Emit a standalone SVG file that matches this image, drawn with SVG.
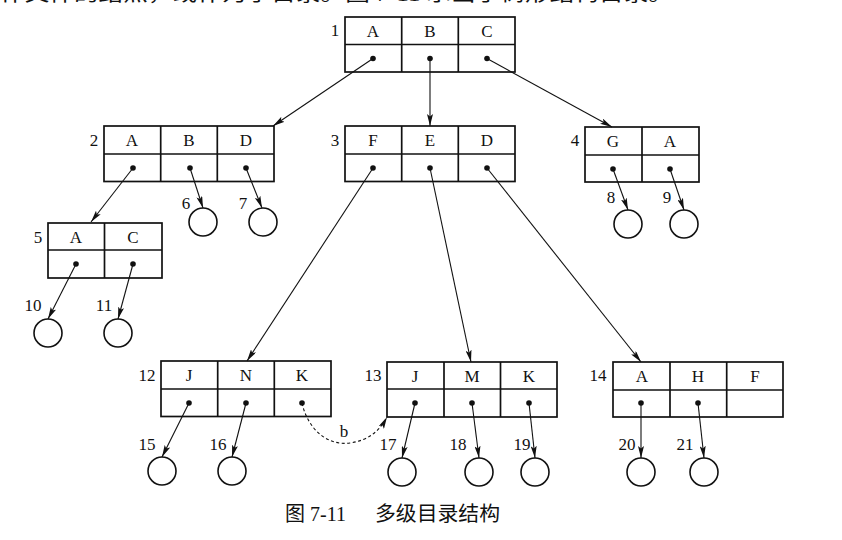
<svg xmlns="http://www.w3.org/2000/svg" width="842" height="540" viewBox="0 0 842 540">
<defs>
<marker id="ah" viewBox="0 0 12 6" refX="12" refY="3" markerWidth="12" markerHeight="6" markerUnits="userSpaceOnUse" orient="auto">
<path d="M0,0 L12,3 L0,6 L2.5,3 Z" fill="#111"/>
</marker>
<style>
.cell{fill:#fff;stroke:#111;stroke-width:1.7}
.t{font-family:'Liberation Serif','Times New Roman',serif;font-size:17px;fill:#111;text-anchor:middle}
.n{font-family:'Liberation Serif','Times New Roman',serif;font-size:17px;fill:#111;text-anchor:middle}
.dot{fill:#111}
.leaf{fill:#fff;stroke:#111;stroke-width:1.6}
.ln{stroke:#111;stroke-width:1.1;fill:none;marker-end:url(#ah)}
.cap{font-family:'Liberation Serif','Noto Sans CJK SC',serif;font-size:20px;fill:#111}
</style>
</defs>
<rect width="842" height="540" fill="#fff"/>
<text class="cap" x="0" y="1" font-size="22" textLength="673" lengthAdjust="spacingAndGlyphs">作文件的结点，或作为子目录。图 7-11 示出了树形结构目录。</text>

<g id="node1">
<rect class="cell" x="345" y="17" width="170" height="55"/>
<line class="cell" x1="345" y1="44.5" x2="515" y2="44.5"/>
<line class="cell" x1="401.7" y1="17" x2="401.7" y2="72"/>
<line class="cell" x1="458.3" y1="17" x2="458.3" y2="72"/>
<text class="t" x="373" y="37">A</text><text class="t" x="430" y="37">B</text><text class="t" x="487" y="37">C</text>
<circle class="dot" cx="373" cy="58.5" r="2.8"/><circle class="dot" cx="430" cy="58.5" r="2.8"/><circle class="dot" cx="487" cy="58.5" r="2.8"/>
<text class="n" x="335" y="36">1</text>
</g>

<g id="node2">
<rect class="cell" x="104" y="126" width="170" height="55.5"/>
<line class="cell" x1="104" y1="154" x2="274" y2="154"/>
<line class="cell" x1="160.7" y1="126" x2="160.7" y2="181.5"/>
<line class="cell" x1="217.3" y1="126" x2="217.3" y2="181.5"/>
<text class="t" x="132" y="146">A</text><text class="t" x="189" y="146">B</text><text class="t" x="246" y="146">D</text>
<circle class="dot" cx="133" cy="168" r="2.8"/><circle class="dot" cx="190" cy="168" r="2.8"/><circle class="dot" cx="246" cy="168" r="2.8"/>
<text class="n" x="94" y="146">2</text>
</g>

<g id="node3">
<rect class="cell" x="345" y="126" width="170" height="55.5"/>
<line class="cell" x1="345" y1="154" x2="515" y2="154"/>
<line class="cell" x1="401.7" y1="126" x2="401.7" y2="181.5"/>
<line class="cell" x1="458.3" y1="126" x2="458.3" y2="181.5"/>
<text class="t" x="373" y="146">F</text><text class="t" x="430" y="146">E</text><text class="t" x="487" y="146">D</text>
<circle class="dot" cx="373" cy="168" r="2.8"/><circle class="dot" cx="430" cy="168" r="2.8"/><circle class="dot" cx="487" cy="168" r="2.8"/>
<text class="n" x="335" y="146">3</text>
</g>

<g id="node4">
<rect class="cell" x="585" y="127" width="114" height="55"/>
<line class="cell" x1="585" y1="155" x2="699" y2="155"/>
<line class="cell" x1="642" y1="127" x2="642" y2="182"/>
<text class="t" x="613" y="147">G</text><text class="t" x="670" y="147">A</text>
<circle class="dot" cx="613" cy="169" r="2.8"/><circle class="dot" cx="670" cy="169" r="2.8"/>
<text class="n" x="575" y="146">4</text>
</g>

<g id="node5">
<rect class="cell" x="48" y="223" width="114" height="55"/>
<line class="cell" x1="48" y1="250" x2="162" y2="250"/>
<line class="cell" x1="104.5" y1="223" x2="104.5" y2="278"/>
<text class="t" x="76" y="243">A</text><text class="t" x="133" y="243">C</text>
<circle class="dot" cx="76" cy="264" r="2.8"/><circle class="dot" cx="133" cy="264" r="2.8"/>
<text class="n" x="38" y="243">5</text>
</g>

<g id="node12">
<rect class="cell" x="161" y="361" width="170" height="55.5"/>
<line class="cell" x1="161" y1="389" x2="331" y2="389"/>
<line class="cell" x1="217.7" y1="361" x2="217.7" y2="416.5"/>
<line class="cell" x1="274.3" y1="361" x2="274.3" y2="416.5"/>
<text class="t" x="189" y="381">J</text><text class="t" x="246" y="381">N</text><text class="t" x="302" y="381">K</text>
<circle class="dot" cx="189" cy="403" r="2.8"/><circle class="dot" cx="246" cy="403" r="2.8"/><circle class="dot" cx="302" cy="403" r="2.8"/>
<text class="n" x="147" y="381">12</text>
</g>

<g id="node13">
<rect class="cell" x="387" y="362" width="170" height="55"/>
<line class="cell" x1="387" y1="389" x2="557" y2="389"/>
<line class="cell" x1="444" y1="362" x2="444" y2="417"/>
<line class="cell" x1="500.5" y1="362" x2="500.5" y2="417"/>
<text class="t" x="415" y="382">J</text><text class="t" x="472" y="382">M</text><text class="t" x="529" y="382">K</text>
<circle class="dot" cx="415" cy="403" r="2.8"/><circle class="dot" cx="472" cy="403" r="2.8"/><circle class="dot" cx="529" cy="403" r="2.8"/>
<text class="n" x="373" y="381">13</text>
</g>

<g id="node14">
<rect class="cell" x="613" y="362" width="170" height="55"/>
<line class="cell" x1="613" y1="390" x2="783" y2="390"/>
<line class="cell" x1="670" y1="362" x2="670" y2="417"/>
<line class="cell" x1="726.7" y1="362" x2="726.7" y2="417"/>
<text class="t" x="642" y="382">A</text><text class="t" x="698" y="382">H</text><text class="t" x="755" y="382">F</text>
<circle class="dot" cx="641" cy="403" r="2.8"/><circle class="dot" cx="698" cy="403" r="2.8"/>
<text class="n" x="598" y="381">14</text>
</g>

<g id="leaf6"><circle class="leaf" cx="203" cy="222" r="14"/><text class="n" x="186" y="209">6</text></g>
<g id="leaf7"><circle class="leaf" cx="263" cy="222" r="14"/><text class="n" x="243" y="209">7</text></g>
<g id="leaf8"><circle class="leaf" cx="628" cy="224" r="14"/><text class="n" x="611" y="203">8</text></g>
<g id="leaf9"><circle class="leaf" cx="684" cy="224" r="14"/><text class="n" x="667" y="203">9</text></g>
<g id="leaf10"><circle class="leaf" cx="48" cy="333" r="14"/><text class="n" x="33" y="311">10</text></g>
<g id="leaf11"><circle class="leaf" cx="118" cy="333" r="14"/><text class="n" x="104" y="311">11</text></g>
<g id="leaf15"><circle class="leaf" cx="162" cy="471" r="14"/><text class="n" x="147" y="450">15</text></g>
<g id="leaf16"><circle class="leaf" cx="232" cy="471" r="14"/><text class="n" x="218" y="450">16</text></g>
<g id="leaf17"><circle class="leaf" cx="402" cy="472" r="14"/><text class="n" x="388" y="450">17</text></g>
<g id="leaf18"><circle class="leaf" cx="479" cy="472" r="14"/><text class="n" x="458" y="450">18</text></g>
<g id="leaf19"><circle class="leaf" cx="535" cy="472" r="14"/><text class="n" x="522" y="450">19</text></g>
<g id="leaf20"><circle class="leaf" cx="641" cy="472" r="14"/><text class="n" x="627" y="450">20</text></g>
<g id="leaf21"><circle class="leaf" cx="704" cy="472" r="14"/><text class="n" x="685" y="450">21</text></g>

<g id="connectors">
<line class="ln" x1="373" y1="58.5" x2="273" y2="126"/>
<line class="ln" x1="430" y1="58.5" x2="430" y2="126"/>
<line class="ln" x1="487" y1="58.5" x2="612" y2="127"/>
<line class="ln" x1="133" y1="168" x2="91" y2="222"/>
<line class="ln" x1="190" y1="168" x2="203" y2="208"/>
<line class="ln" x1="246" y1="168" x2="262" y2="208"/>
<line class="ln" x1="373" y1="168" x2="247" y2="361"/>
<line class="ln" x1="430" y1="168" x2="471" y2="362"/>
<line class="ln" x1="487" y1="168" x2="641" y2="362"/>
<line class="ln" x1="613" y1="169" x2="628" y2="210"/>
<line class="ln" x1="670" y1="169" x2="684" y2="210"/>
<line class="ln" x1="76" y1="264" x2="48" y2="319"/>
<line class="ln" x1="133" y1="264" x2="118" y2="319"/>
<line class="ln" x1="189" y1="403" x2="162" y2="457"/>
<line class="ln" x1="246" y1="403" x2="232" y2="457"/>
<line class="ln" x1="415" y1="403" x2="402" y2="458"/>
<line class="ln" x1="472" y1="403" x2="479" y2="458"/>
<line class="ln" x1="529" y1="403" x2="535" y2="458"/>
<line class="ln" x1="641" y1="403" x2="641" y2="458"/>
<line class="ln" x1="698" y1="403" x2="704" y2="458"/>
<path class="ln" d="M302,403 C308,430 328,446 350,443 C370,440 380,430 387,417" stroke-dasharray="3,2.5"/>
<text class="n" x="344" y="437">b</text>
</g>

<text class="cap" x="285" y="521">图 7-11</text>
<text class="cap" x="375" y="521" textLength="125" lengthAdjust="spacingAndGlyphs">多级目录结构</text>
</svg>
